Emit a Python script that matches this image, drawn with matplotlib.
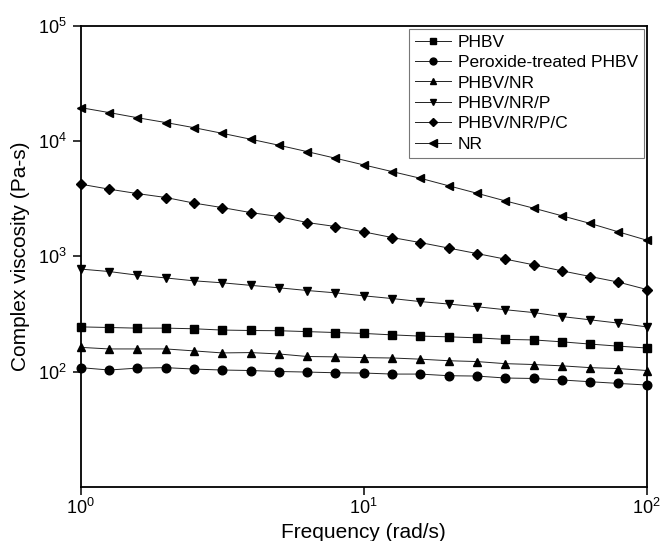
import numpy as np
import matplotlib
matplotlib.use("Agg")
import matplotlib.pyplot as plt

plt.rcParams['font.family'] = ['Liberation Sans', 'DejaVu Sans']
plt.rcParams['mathtext.fontset'] = 'custom'
plt.rcParams['mathtext.rm'] = 'Liberation Sans'

# frequency (rad/s), 10 points per decade
freq = [1.0, 1.26, 1.58, 2.0, 2.51, 3.16, 3.98, 5.01, 6.31, 7.94, 10.0,
        12.6, 15.8, 20.0, 25.1, 31.6, 39.8, 50.1, 63.1, 79.4, 100.0]

phbv = [244, 241, 238, 238, 235, 229, 227, 226, 222, 218, 214,
        208, 203, 200, 196, 190, 188, 181, 173, 166, 160]
peroxide_phbv = [108, 103, 107, 108, 105, 103, 102, 100, 98.9, 97.5, 97,
                 95, 95, 91.9, 91.3, 87.8, 87, 84.4, 81.5, 78.8, 76.3]
phbv_nr = [162, 157, 157, 157, 151, 145, 146, 142, 135, 134, 132,
           131, 128, 124, 122, 117, 115, 112, 108, 106, 102]
phbv_nr_p = [775, 738, 687, 649, 613, 589, 560, 533, 505, 482, 454,
             430, 405, 385, 365, 344, 325, 300, 281, 263, 244]
phbv_nr_p_c = [4230, 3830, 3510, 3240, 2900, 2650, 2400, 2215, 1965, 1815, 1630,
               1456, 1318, 1178, 1057, 946, 844, 748, 668, 597, 515]
nr = [19540, 17700, 16000, 14500, 13100, 11700, 10400, 9220, 8110, 7110, 6220,
      5440, 4770, 4090, 3530, 3030, 2620, 2250, 1930, 1630, 1380]

series = [
    ("PHBV", phbv, "s", 5.6),
    ("Peroxide-treated PHBV", peroxide_phbv, "o", 6.2),
    ("PHBV/NR", phbv_nr, "^", 6.2),
    ("PHBV/NR/P", phbv_nr_p, "v", 6.2),
    ("PHBV/NR/P/C", phbv_nr_p_c, "D", 5.6),
    ("NR", nr, "<", 6.4),
]

fig = plt.figure(figsize=(6.6, 5.41), dpi=100)
ax = fig.add_axes([0.1223, 0.1004, 0.8577, 0.8516])

for label, vals, mk, ms in series:
    ax.plot(freq, vals, color="#222222", lw=0.7, marker=mk, markersize=ms,
            markerfacecolor="black", markeredgecolor="black", label=label,
            clip_on=False)

ax.set_xscale("log")
ax.set_yscale("log")
ax.set_xlim(1, 100)
ax.set_ylim(10, 1e5)
ax.set_xticks([1, 10, 100])
ax.set_yticks([1e2, 1e3, 1e4, 1e5])
ax.minorticks_off()
ax.tick_params(direction="out", length=6, width=1.1, labelsize=13)
ax.tick_params(axis="x", pad=2)
ax.tick_params(axis="y", pad=4)
for sp in ax.spines.values():
    sp.set_linewidth(1.3)

ax.set_xlabel("Frequency (rad/s)", fontsize=15)
ax.set_ylabel("Complex viscosity (Pa-s)", fontsize=15)
ax.xaxis.set_label_coords(0.5, -0.078)
ax.yaxis.set_label_coords(-0.09, 0.5)

leg = ax.legend(loc="upper right", fontsize=12.5, frameon=True, fancybox=False,
                edgecolor="#555555", handlelength=2.1, handletextpad=0.4,
                labelspacing=0.3, borderpad=0.35, borderaxespad=0.15,
                markerscale=0.8)
leg.get_frame().set_linewidth(0.8)

plt.savefig("out.png", dpi=100)
